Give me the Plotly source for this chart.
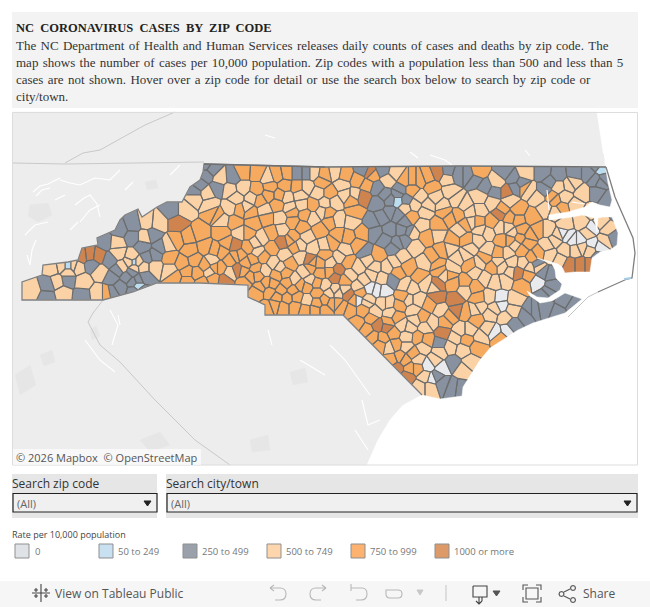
import plotly.graph_objects as go

# ---- Data: approximate zip-area centres per rate class (map units)
rate_labels = ["0", "50 to 249", "250 to 499", "500 to 749", "750 to 999", "1000 or more"]
zip_0 = [(377,290),(370,288),(384,291),(501,305),(563,233),(573,240),(568,236),(592,228),(600,247),(592,244),(538,282),(357,300),(495,332),(507,330),(428,365),(442,368),(432,379),(500,298),(580,240)]
zip_50 = [(68,266),(138,286),(398,201),(602,170),(134,262)]
zip_250 = [(207,175),(217,188),(233,177),(297,173),(307,173),(195,192),(172,210),(133,225),(132,237),(120,230),(105,242),(110,260),(92,265),(153,235),(160,247),(143,247),(147,257),(155,255),(132,272),(112,278),(120,287),(133,282),(145,277),(68,280),(48,285),(47,297),(82,295),(112,292),
 (378,203),(382,217),(375,233),(390,230),(402,230),(397,243),(400,190),(377,188),(365,252),(405,222),(393,248),(363,170),(383,170),(458,175),(468,175),(485,187),(495,192),(513,178),(515,188),(543,173),(558,175),(575,173),(588,173),(597,193),(607,200),(545,190),(618,212),(543,273),(548,292),(533,310),(558,313),(573,305),(598,257),(393,280),(613,237),(440,343),(453,363),(442,383),(453,387),(460,388),(437,377),(513,325),(530,310),(545,295),
 (596,180),(604,178),(596,165),(609,165),(398,194),(406,200),(390,200),(390,212),(398,215),(385,240),(372,222),(385,195),(405,240),(410,232),(134,291),(142,291),(138,280),(127,277),(118,270),(526,315),(545,308),(565,300),(552,285),(537,265),(550,275),(205,165),(212,170),(200,185),(522,183),(505,172),(550,182),(600,182),(448,172),(475,180)]
zip_500 = [(52,268),(32,290),(57,282),(63,293),(83,282),(98,293),(77,267),(100,272),(117,243),(118,253),(122,267),(132,257),(158,223),(147,222),(145,237),(168,245),(185,210),(155,267),(170,270),(143,267),
 (220,178),(230,190),(243,188),(287,197),(307,187),(318,193),(207,193),(230,208),(247,208),(302,205),(195,198),(322,212),(280,218),(313,218),(262,238),(307,237),(258,252),(313,248),(282,230),(212,260),(273,263),(300,257),(210,272),(265,270),(305,272),(230,273),(307,300),(313,173),
 (335,173),(395,173),(447,178),(497,182),(525,173),(342,185),(388,180),(450,192),(480,197),(528,190),(538,198),(570,185),(565,197),(582,193),(573,183),(558,187),(335,202),(415,205),(428,205),(443,205),(470,212),(492,203),(338,220),(352,222),(422,225),(472,222),(508,228),(548,230),(582,222),(565,225),(608,230),(588,233),(605,240),(340,257),(412,233),(438,235),(478,240),(488,233),(512,233),(547,245),(558,235),(565,250),(582,247),(358,267),(402,257),(415,247),(450,248),(465,255),(488,250),(480,263),(508,253),(330,263),(375,267),(387,267),(452,268),(475,272),(502,267),(523,263),(538,267),(560,260),(335,290),(358,287),(412,288),(425,283),(485,278),(495,282),(505,280),(368,300),(388,303),(418,300),(490,297),(515,300),
 (338,293),(330,293),(367,302),(383,303),(408,300),(480,307),(513,310),(390,313),(413,310),(410,327),(425,327),(460,330),(480,337),(407,337),(450,347),(390,347),(423,347),(463,350),(470,362),(418,360),(425,377),(420,387),(430,387),(463,370),
 (62,266),(74,266),(68,272),(130,262),(138,262),(134,268),(405,208),(268,178),(236,198),(252,198),(265,210),(290,208),(325,203),(300,195),(210,205),(222,220),(240,233),(255,243),(285,255),(300,245),(325,245),(280,268),(295,280),(310,280),(325,285),(345,195),(355,195),(420,197),(436,197),(456,200),(465,205),(480,210),(510,200),(545,208),(556,212),(575,205),(592,212),(600,222),(575,250),(590,250),(550,255),(345,250),(368,260),(345,290),(395,262),(425,262),(445,275),(458,258),(470,248),(498,262),(512,262),(515,245),(500,228),(480,230),(460,230),(425,212),(372,275),(350,275),(365,280),(382,278),(405,285),(435,287),(465,290),(475,310),(490,315),(505,318),(495,308),(440,310),(432,322),(415,320),(375,312),(402,325),(440,352),(455,338),(470,330),(488,328),(435,360),(407,347),(555,240),(530,268),(510,272)]
zip_750 = [(107,293),(177,240),(200,233),(217,215),(235,222),(253,223),(188,237),(182,263),(197,273),(213,278),
 (243,172),(257,173),(277,175),(287,173),(322,182),(257,190),(270,187),(297,187),(277,205),(260,200),(313,205),(213,213),(267,218),(293,222),(302,227),(222,233),(248,233),(272,233),(293,237),(320,230),(215,250),(227,243),(248,247),(272,248),(295,247),(195,260),(230,260),(253,260),(263,257),(290,263),(320,263),(250,277),(277,275),(285,273),(320,273),(260,287),(287,283),(297,297),(317,293),(283,307),(270,292),(277,297),(267,308),(295,307),(305,310),(315,310),(257,292),(293,290),(307,287),(317,283),
 (345,175),(358,180),(412,180),(428,177),(478,172),(367,185),(412,190),(432,187),(555,200),(525,188),(552,197),(562,208),(330,193),(355,212),(458,215),(502,210),(532,217),(518,210),(328,213),(362,233),(412,217),(438,225),(450,218),(492,222),(522,230),(538,230),(332,243),(348,237),(427,237),(452,240),(467,240),(502,240),(528,243),(538,253),(378,255),(348,262),(432,257),(442,250),(498,253),(522,250),(532,257),(345,280),(398,273),(420,277),(408,267),(438,265),(492,267),(528,275),(453,283),(465,282),(475,287),(522,285),(403,297),(478,298),(332,303),(342,307),
 (317,303),(337,303),(350,310),(423,317),(450,317),(477,320),(397,317),(357,323),(367,330),(393,333),(467,340),(500,338),(427,340),(383,338),(373,337),(380,345),(400,357),(413,353),(477,347),(410,368),(417,368),
 (240,255),(246,263),(243,271),(256,268),(258,276),(266,283),(273,284),(281,290),(245,282),(236,256),(222,252),(205,247),(205,265),(220,268),(187,272),(190,250),(170,258),(175,277),(187,281),(202,283),(215,268),(250,212),(240,210),(285,186),(280,195),(268,195),(292,212),(305,215),(330,222),(338,235),(358,245),(325,255),(310,268),(300,285),(287,298),(275,305),(325,300),(325,310),(355,300),(400,305),(430,305),(445,322),(465,312),(372,318),(363,310),(388,322),(395,345),(405,360),(392,360),(418,338),(440,270),(450,275),(470,265),(485,258),(520,238),(510,240),(530,235),(518,220),(510,218),(478,222),(465,225),(445,212),(420,180),(405,180),(352,200),(372,175),(325,175),(290,240),(312,262),(330,272),(360,292)]
zip_1000 = [(90,255),(82,256),(98,256),(178,223),(282,242),(235,245),(310,260),(238,270),(225,280),(363,197),(507,192),(370,173),(438,173),(335,277),(338,270),(348,294),(437,297),(437,285),(455,300),(518,273),(580,265),(590,265),(570,265),(500,213),(443,333),(407,377),(397,368),(378,325),(387,327),(457,310)]

# Base-map geography (map units)
land_north = [(13,112),(597,112),(603,153),(606,167),(460,166),(325,167),(204,164),(203,172),(200,180),(190,187),(186,195),(182,202),(167,202),(157,207),(142,217),(138,209),(125,215),(120,220),(115,230),(97,238),(98,245),(82,248),(78,260),(68,262),(43,265),(42,275),(22,282),(22,300),(13,300)]
land_south = [(13,300),(22,300),(103,300),(115,297),(133,292),(157,283),(200,283),(248,285),(248,297),(265,305),(265,315),(343,315),(422,395),(403,405),(390,420),(378,440),(367,465),(13,465)]
water = [(597,112),(650,112),(650,465),(367,465),(378,440),(390,420),(403,405),(422,395),(440,399),(462,396),(463,387),(472,372),(480,360),(490,348),(503,340),(518,330),(533,323),(548,318),(565,313),(576,304),(582,299),(565,293),(552,301),(540,303),(530,296),(527,291),(537,297),(548,298),(560,290),(562,284),(556,278),(555,270),(552,264),(537,258),(558,264),(562,267),(565,273),(575,272),(590,272),(592,258),(600,252),(610,250),(617,245),(618,233),(612,217),(603,217),(598,218),(597,232),(594,218),(582,215),(572,217),(549,220),(549,215),(568,212),(585,207),(592,202),(600,205),(610,207),(612,200),(608,183),(606,170),(603,153)]
outer_banks = [(606,167),(615,197),(622,213),(633,238),(635,253),(632,278),(627,279),(608,287),(598,292)]
outer_banks_south = [(598,292),(588,297),(568,317)]
ocracoke_marker = [(624,279),(631,278)]
state_line = [(204,164),(325,167),(460,166),(606,167)]
nc_outline = land_north[5:28] + land_south[1:13]
river_lines = [[(547,190),(549,210)],[(572,202),(585,204)],[(33,192),(40,186),(48,184),(60,178)],[(36,196),(42,190),(50,188)],[(75,205),(84,198),(90,195),(97,204),(100,217)],[(80,222),(90,210),(100,205)],[(25,235),(35,225),(48,222)],[(27,255),(30,265),(32,250),(36,240)],[(60,180),(70,183),(80,185),(95,178),(110,180),(120,170)],[(125,190),(133,182)],[(170,175),(180,165)],[(430,155),(445,160),(452,165)],[(410,152),(418,158)],[(525,150),(530,156)],[(85,340),(100,360),(115,372)],[(110,310),(118,325),(112,345)],[(330,345),(345,360),(370,395)],[(300,360),(325,375)],[(362,400),(368,425),(380,420)],[(355,430),(368,450)],[(268,330),(272,345)],[(118,315),(120,325)],[(265,135),(275,138)],[(70,230),(78,222)],[(55,200),(65,195)]]
border_lines = [[(13,163),(65,164),(204,162)],[(65,163),(83,153),(100,150),(145,125),(175,112)],[(103,300),(93,313),(88,322),(100,345),(120,362),(155,400),(195,440),(230,465)]]
land_blobs = [[(30,205),(48,203),(52,215),(38,222),(28,216)],[(145,182),(156,180),(158,188),(147,190)],[(90,330),(96,326),(100,336),(92,340)],[(15,375),(30,365),(36,385),(20,395)],[(140,440),(160,432),(170,445),(150,452)],[(40,355),(52,350),(55,362),(44,366)],[(290,372),(305,368),(308,382),(293,385)],[(250,440),(268,435),(270,450),(252,452)]]

GAP = " \u200a"
header_title = "NC  CORONAVIRUS  CASES  BY  ZIP  CODE"
header_lines = ["The NC Department of Health and Human Services releases daily counts of cases and deaths by zip code. The",
                "map shows the number of cases per 10,000 population. Zip codes with a population less than 500 and less than 5",
                "cases are not shown. Hover over a zip code for detail or use the search box below to search by zip code or",
                "city/town."]
legend_title = "Rate per 10,000 population"
filter_labels = ["Search zip code", "Search city/town"]
filter_value = "(All)"
attribution = "© 2026 Mapbox  © OpenStreetMap"

fill_colors = ["#e8eaee", "#bcdcf0", "#87919f", "#fbd2a6", "#f5aa5f", "#cf8450"]
swatch_colors = ["#dfe3e8", "#c8e0f0", "#9aa1aa", "#fdd6ae", "#fdb26f", "#dd9a68"]
EDGE = "#6d6d6d"


def voronoi_cell(seed, others, box):
    """Cell of one zip centre: the box cut by the bisector against every other centre."""
    poly = box
    sx, sy = seed
    for ox, oy in others:
        if (ox, oy) == seed:
            continue
        mx, my = (sx + ox) / 2, (sy + oy) / 2
        nx, ny = ox - sx, oy - sy
        out = []
        for i in range(len(poly)):
            ax, ay = poly[i]
            bx, by = poly[(i + 1) % len(poly)]
            da = (ax - mx) * nx + (ay - my) * ny
            db = (bx - mx) * nx + (by - my) * ny
            if da <= 0:
                out.append((ax, ay))
            if (da < 0 < db) or (db < 0 < da):
                t = da / (da - db)
                out.append((ax + t * (bx - ax), ay + t * (by - ay)))
        poly = out
        if not poly:
            break
    return poly


def path_xy(polys):
    xs, ys = [], []
    for p in polys:
        xs += [q[0] for q in p] + [p[0][0], None]
        ys += [q[1] for q in p] + [p[0][1], None]
    return xs, ys


classes = [zip_0, zip_50, zip_250, zip_500, zip_750, zip_1000]
all_seeds = list({s for c in classes for s in c})
bbox = [(15, 155), (637, 155), (637, 405), (15, 405)]

fig = go.Figure()
for cls, col, lab in zip(classes, fill_colors, rate_labels):
    polys = [voronoi_cell(s, all_seeds, bbox) for s in dict.fromkeys(cls)]
    polys = [p for p in polys if p]
    x, y = path_xy(polys)
    fig.add_trace(go.Scatter(x=x, y=y, mode="lines", fill="toself", fillcolor=col, name=lab,
                             line=dict(color=EDGE, width=1.1), hoverinfo="skip"))


def area(poly, color, line=None):
    x, y = path_xy([poly])
    fig.add_trace(go.Scatter(x=x, y=y, mode="lines", fill="toself", fillcolor=color,
                             line=dict(color=line or color, width=0.5), hoverinfo="skip"))


def stroke(pts, color, width):
    fig.add_trace(go.Scatter(x=[p[0] for p in pts], y=[p[1] for p in pts], mode="lines",
                             line=dict(color=color, width=width), hoverinfo="skip"))


area(land_north, "#ededed")
area(land_south, "#ededed")
for b in land_blobs:
    area(b, "#e6e6e6")
area(water, "#ffffff")
for r in river_lines:
    stroke(r, "#ffffff", 1.1)
for b in border_lines:
    stroke(b, "#c9c9c9", 1)
stroke(nc_outline, "#808080", 1.3)
stroke(state_line, "#707070", 1.5)
stroke(outer_banks, "#7f7f7f", 1.3)
stroke(outer_banks_south, "#c4c4c4", 1)
stroke(ocracoke_marker, "#a9cfe8", 2)

shapes = []


def rect(x0, y0, x1, y1, fill, line=None, w=1, layer="below"):
    shapes.append(dict(type="rect", x0=x0, y0=y0, x1=x1, y1=y1, fillcolor=fill, layer=layer,
                       line=dict(color=line or fill, width=w if line else 0)))


def glyph(path, color="#9a9a9a", w=1.1, fill=None):
    s = dict(type="path", path=path, line=dict(color=color, width=w), layer="above")
    if fill:
        s["fillcolor"] = fill
    shapes.append(s)


def ring(cx, cy, r=2.5):
    pts = [(1, 0), (.7, .7), (0, 1), (-.7, .7), (-1, 0), (-.7, -.7), (0, -1), (.7, -.7)]
    return "M" + " L".join(f"{cx + a * r},{cy + b * r}" for a, b in pts) + " Z"


rect(12, 12, 638, 108, "#f3f3f3")
rect(12.5, 112.5, 637.5, 465, "rgba(0,0,0,0)", "#dddddd", 1, "above")
rect(13, 449, 201, 465, "rgba(255,255,255,0.6)", layer="above")
rect(12, 474, 157, 518, "#e6e6e6")
rect(166, 474, 638, 518, "#e6e6e6")
rect(13, 493.5, 157, 512, "#f0f0f0", "#222222", 1.2)
rect(167, 493.5, 637, 512, "#f0f0f0", "#222222", 1.2)
rect(0, 581, 650, 607, "#f6f6f6")
for x, c in zip([15, 99, 183, 267, 351, 435], swatch_colors):
    rect(x, 544, x + 14, 558, c, "#8f8f8f", 1)
glyph("M144,501 L151,501 L147.5,506 Z", "#222222", 1, "#222222")
glyph("M624,501 L631,501 L627.5,506 Z", "#222222", 1, "#222222")

# toolbar glyphs
glyph("M41,584 V602 M32,593 H50 M36,588 V592 M46,588 V592 M36,594 V598 M46,594 V598 M34,590 H38 M44,590 H48 M34,596 H38 M44,596 H48", "#444444", 1.1)
glyph("M270,588 L274,585 M270,588 L274,591 M270,588 H280 Q286,588 286,594 Q286,600 280,600 H275", "#b8b8b8")
glyph("M326,588 L322,585 M326,588 L322,591 M326,588 H316 Q310,588 310,594 Q310,600 316,600 H321", "#b8b8b8")
glyph("M351,584 V591 M351,588 H362 Q367,588 367,594 Q367,600 361,600 H356", "#b8b8b8")
glyph("M386,590 H398 Q402,590 402,594 Q402,598 398,598 H390 Q386,598 386,594 Z", "#b8b8b8")
glyph("M417,590 H423 L420,595 Z", "#c8c8c8", 1, "#c8c8c8")
glyph("M446,585 V601", "#c8c8c8")
glyph("M473,586 H487 V597 H482 V601 M473,586 V597 H482 M479,597 V604 M476,601 L479,604 L482,601", "#444444")
glyph("M493,591 H500 L496.5,596 Z", "#555555", 1, "#555555")
glyph("M528,585 H523 V590 M536,585 H541 V590 M523,597 V602 H528 M541,597 V602 H536 M526,588 H538 V599 H526 Z", "#555555")
glyph("M564,592 L570,589 M564,596 L570,599 " + ring(561.5, 594) + " " + ring(573, 588) + " " + ring(573, 600), "#555555")

ann = []


def text(x, y, s, size, color, family="Open Sans", bold=False):
    ann.append(dict(x=x - 2, y=y, text=f"<b>{s}</b>" if bold else s, showarrow=False, xanchor="left", yanchor="middle",
                    xref="x", yref="y", align="left", font=dict(size=size, color=color, family=family)))


SERIF = "Liberation Serif"
text(16, 28, header_title, 12.5, "#222222", SERIF, bold=True)
for y, s in zip([45, 62, 79, 96], header_lines):
    text(16, y, s.replace(" ", GAP), 13, "#333333", SERIF)
text(15.5, 457, attribution, 11, "#555555")
text(12, 483.5, filter_labels[0], 12, "#333333")
text(166, 483.5, filter_labels[1], 12, "#333333")
text(17, 503, filter_value, 11, "#666666")
text(171, 503, filter_value, 11, "#666666")
text(12, 534, legend_title, 9, "#444444")
for x, s in zip([35, 118, 202, 286, 370, 454], rate_labels):
    text(x, 551.5, s, 9.5, "#777777")
text(55, 593.5, "View on Tableau Public", 12, "#555555")
text(583, 593.5, "Share", 12, "#555555")

fig.update_layout(width=650, height=607, margin=dict(l=0, r=0, t=0, b=0), showlegend=False,
                  paper_bgcolor="#ffffff", plot_bgcolor="#ffffff", shapes=shapes, annotations=ann,
                  xaxis=dict(range=[0, 650], visible=False, fixedrange=True),
                  yaxis=dict(range=[607, 0], visible=False, fixedrange=True))
fig.write_html("out.html", config={"displayModeBar": False},
               post_script="document.body.style.margin='0';document.body.style.overflow='hidden';")
